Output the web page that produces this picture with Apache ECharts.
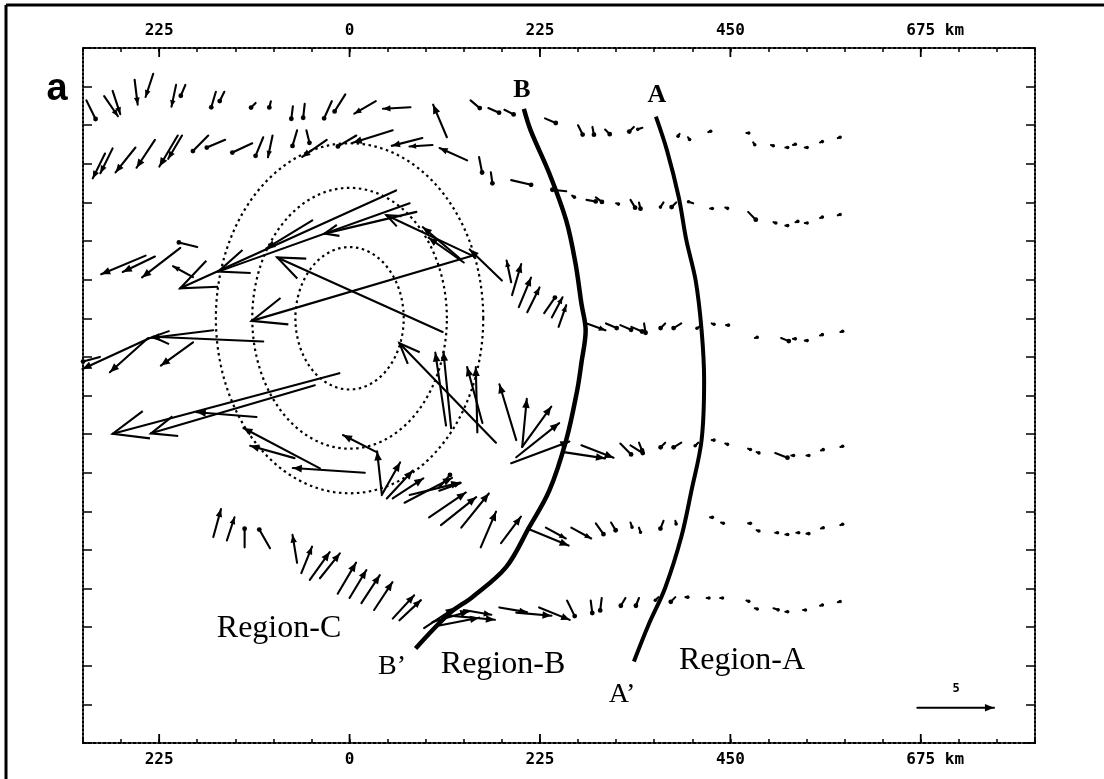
<!DOCTYPE html>
<html><head><meta charset="utf-8">
<script src="https://cdn.jsdelivr.net/npm/echarts/dist/echarts.min.js"></script>
<style>html,body{margin:0;padding:0;background:#fff}#c{width:1104px;height:779px}</style>
</head><body><div id="c"></div>
<script>
// ---- tick labels (km) ----
const xTickLabels = [-225, 0, 225, 450, 675];

// ---- wind vectors: [x km, y km, u m/s, v m/s] ----
const row1 = [
[-311,254,0.6,-1.2],[-290,259,0.9,-1.3],[-280,265,0.5,-1.5],[-254,278,0.2,-1.6],[-232,285,-0.5,-1.5],
[-205,272,-0.3,-1.4],[-194,272,-0.3,-0.7],[-158,264,-0.3,-1.0],[-148,264,-0.3,-0.6],[-111,251,-0.3,-0.3],
[-93,253,-0.1,-0.4],[-67,247,-0.1,-0.8],[-53,250,-0.1,-0.9],[-21,253,-0.5,-1.1],[-5,261,-0.7,-1.1],
[31,253,-1.4,-0.8],[72,246,-1.8,-0.1],[115,211,-0.9,2.1],[143,254,0.6,-0.5],[164,245,0.7,-0.3],
[183,243,0.6,-0.3],[231,233,0.7,-0.3],[270,225,0.3,-0.6],[287,223,0.1,-0.5],[302,220,0.3,-0.3],
[336,223,-0.3,-0.3],[346,222,-0.3,-0.1],[390,215,-0.1,-0.15],[400,211,0.1,-0.15],[424,217,0.15,0.05],
[469,216,0.15,0],[477,205,0.1,-0.15],[498,202,0.15,-0.05],[515,199,0.15,0],[524,202,0.15,0.05],
[538,199,0.15,0],[556,205,0.15,0.05],[577,210,0.15,0.05]
];
const row2 = [
[-289,192,-0.8,-1.6],[-280,198,-0.8,-1.6],[-253,199,-1.3,-1.6],[-230,208,-1.2,-1.8],[-203,213,-1.2,-2.0],
[-198,213,-0.9,-1.5],[-167,213,-1.0,-1.0],[-147,208,-1.2,-0.5],[-115,204,-1.3,-0.6],[-102,211,-0.5,-1.2],
[-91,213,-0.3,-1.4],[-62,219,-0.3,-1.0],[-51,219,0.2,-0.8],[-27,208,-1.6,-1.1],[8,213,-1.2,-0.7],
[51,219,-2.6,-0.8],[86,210,-2.0,-0.5],[98,202,-1.5,-0.1],[139,184,-1.8,0.8],[153,188,0.2,-1.0],
[167,170,0.1,-0.7],[191,161,1.3,-0.3],[256,148,-0.9,0.1],[263,143,0.15,-0.1],[280,138,0.6,-0.1],
[291,141,0.4,-0.3],[315,134,0.15,-0.05],[332,138,0.3,-0.5],[342,135,0.1,-0.4],[371,135,-0.2,-0.3],
[386,135,-0.3,-0.3],[406,134,-0.3,0.1],[426,128,0.15,0],[444,129,0.15,-0.05],[471,124,0.5,-0.5],
[501,112,0.15,-0.05],[515,108,0.15,0],[527,112,0.15,0.05],[538,111,0.15,0],[556,117,0.15,0.05],
[577,120,0.15,0.05]
];
const row3 = [
[-241,73,-2.9,-1.2],[-230,72,-2.1,-1.0],[-200,82,-2.5,-1.9],[-180,83,-1.2,0.3],[-185,48,-1.3,0.7],
[277,-5,1.4,-0.5],[303,-6,0.7,-0.3],[320,-8,0.7,-0.3],[333,-10,0.7,-0.3],[348,-6,0.1,-0.6],
[373,-6,-0.3,-0.3],[392,-6,-0.5,-0.3],[416,-8,-0.3,-0.2],[428,-6,0.15,-0.05],[445,-8,0.15,0],
[479,-23,0.15,0.05],[510,-23,0.5,-0.2],[524,-24,0.15,0],[538,-26,0.15,0],[556,-20,0.15,0.05],
[580,-16,0.15,0.05]
];
const vortexCore = [
[55,149,-14.1,-6.3],[71,134,-12.5,-4.4],[79,124,-6.0,-1.4],[-44,114,-3.0,-1.8],[145,73,-5.6,2.6],
[130,70,-2.4,2.0],[135,65,-2.3,1.6],[145,73,-14.4,-4.2],[110,-16,-10.8,4.8],[180,44,-2.1,2.0],
[173,-145,-6.3,6.4],[114,-125,-0.7,4.7],[120,-128,-0.5,4.9],[157,-122,-1.0,3.6],[151,-133,-0.1,4.2]
];
const eastFlank = [
[191,42,-0.3,1.4],[192,27,0.6,2.0],[200,13,0.8,1.9],[210,7,0.8,1.6],[230,6,0.7,1.0],[239,1,0.7,1.3],
[247,-10,0.5,1.4],[197,-142,-1.1,3.6],[204,-150,0.3,3.1],[204,-150,1.9,2.6],[197,-162,2.8,2.2],
[191,-169,3.8,1.4]
];
const row4West = [
[-236,-23,-4.4,-2.0],[-238,-23,-2.5,-2.2],[-161,-14,-4.1,-0.5],[-102,-27,-7.2,0.3],[-185,-28,-2.1,-1.5],
[-295,-45,-1.1,-0.3],[-12,-64,-14.8,-3.9],[-41,-78,-10.7,-3.1],[-110,-115,-3.9,0.3],[18,-180,-4.7,0.3],
[-35,-175,-5.0,2.6],[-65,-163,-2.9,0.8]
];
const southFan = [
[32,-156,-2.2,1.1],[38,-204,-0.3,2.7],[38,-206,1.2,2.1],[44,-210,1.7,1.8],[51,-210,2.0,1.3],
[65,-215,3.1,1.6],[71,-206,3.3,0.8],[94,-232,2.4,1.6],[108,-241,2.3,1.8],[132,-244,1.8,2.2],
[155,-267,1.0,2.3],[106,-201,1.4,0.5],[106,-197,0.7,0.8]
];
const row5 = [
[253,-156,2.7,-0.4],[274,-148,2.1,-0.8],[320,-146,0.7,-0.7],[332,-148,0.8,-0.5],[342,-145,0.2,-0.5],
[373,-145,-0.3,-0.3],[392,-145,-0.5,-0.3],[412,-145,-0.2,-0.2],[428,-142,0.15,0],[444,-146,0.15,-0.05],
[471,-152,0.15,-0.05],[481,-156,0.15,-0.05],[503,-157,0.8,-0.3],[522,-160,0.15,0],[540,-160,0.15,0],
[557,-154,0.15,0.05],[580,-150,0.15,0.05]
];
const row5b = [
[179,-262,1.3,1.7],[210,-245,2.7,-1.1],[232,-244,1.3,-0.7],[262,-244,1.3,-0.7],[291,-239,0.5,-0.7],
[309,-238,0.3,-0.5],[332,-238,0.1,-0.3],[342,-244,0.1,-0.3],[371,-236,-0.2,-0.5],[385,-236,0.05,-0.2],
[426,-232,0.15,0],[439,-238,0.15,-0.05],[471,-239,0.15,0],[481,-247,0.15,-0.05],[503,-250,0.15,0],
[515,-252,0.15,0],[528,-250,0.15,0],[540,-251,0.15,0],[557,-245,0.15,0.05],[580,-241,0.15,0.05]
];
const row6 = [
[-161,-255,0.5,1.8],[-145,-259,0.5,1.5],[-124,-267,0,1.2],[-94,-268,-0.7,1.2],[-62,-285,-0.3,1.8],
[-57,-297,0.7,1.7],[-47,-305,1.3,1.8],[-35,-303,1.3,1.6],[-14,-321,1.2,2.0],[0,-326,1.1,1.8],
[14,-332,1.2,1.8],[29,-340,1.2,1.8],[51,-350,1.4,1.5],[59,-352,1.4,1.3],
[98,-354,2.4,0.7],[106,-358,2.6,0.5],[112,-346,3.3,-0.3],[88,-361,2.0,1.3],
[135,-340,1.8,-0.3],[177,-337,1.8,-0.3],[197,-343,2.3,-0.2],[224,-337,2.0,-0.8],[257,-329,0.5,-1.0],
[285,-329,0.1,-0.8],[298,-326,-0.1,-0.8],[326,-326,-0.3,-0.5],[342,-326,-0.2,-0.5],[365,-325,-0.2,-0.2],
[385,-325,-0.3,-0.3],[397,-325,0.15,0],[422,-326,0.15,0],[438,-326,0.15,0],[469,-329,0.15,-0.05],
[479,-338,0.15,-0.05],[501,-338,0.3,-0.1],[515,-342,0.15,0],[536,-340,0.15,0],[556,-335,0.15,0.05],
[577,-331,0.15,0.05]
];
const scaleVector = [[671,-454,5,0]];

// ---- fronts (km) ----
const frontB = [[206,244],[214,219],[236,169],[256,114],[267,64],[274,17],[279,-14],[274,-52],[269,-84],
[256,-142],[236,-201],[212,-244],[185,-290],[145,-325],[118,-344],[78,-385]];
const frontA = [[362,235],[375,196],[389,141],[398,91],[409,44],[416,-14],[419,-72],[416,-142],[404,-201],
[392,-255],[373,-314],[353,-358],[336,-400]];

// ---- dotted ellipses: [cx, cy, semi-x, semi-y] km ----
const ellipses = [[0,0,64,83],[0,0,115,152],[0,0,158,204]];

const K = 18.1; // km drawn per m/s (5 m/s reference arrow)

const vectors = [].concat(row1,row2,row3,vortexCore,eastFlank,row4West,southFan,row5,row5b,row6,scaleVector);

function renderVector(params, api){
  const x=api.value(0), y=api.value(1), u=api.value(2), v=api.value(3);
  const p0=api.coord([x,y]), p1=api.coord([x+u*K, y+v*K]);
  const dx=p1[0]-p0[0], dy=p1[1]-p0[1];
  const len=Math.hypot(dx,dy)||0.001;
  const ux=dx/len, uy=dy/len;
  const ch=[{type:'line',shape:{x1:p0[0],y1:p0[1],x2:p1[0],y2:p1[1]},style:{stroke:'#000',lineWidth:2.1,lineCap:'round'}}];
  if(len<22){
    ch.push({type:'circle',shape:{cx:p1[0],cy:p1[1],r:len<6?1.8:2.4},style:{fill:'#000'}});
  } else if(len<90){
    const h=Math.min(9,0.2*len+2), w=h*0.42;
    const bx=p1[0]-ux*h, by=p1[1]-uy*h;
    ch.push({type:'polygon',shape:{points:[[p1[0],p1[1]],[bx-uy*w,by+ux*w],[bx+uy*w,by-ux*w]]},style:{fill:'#000'}});
  } else {
    const hl=Math.min(40,0.16*len), a=22*Math.PI/180;
    const bx=-ux, by=-uy;
    const c=Math.cos(a), s=Math.sin(a);
    const b1=[p1[0]+hl*(bx*c-by*s), p1[1]+hl*(bx*s+by*c)];
    const b2=[p1[0]+hl*(bx*c+by*s), p1[1]+hl*(-bx*s+by*c)];
    ch.push({type:'polyline',shape:{points:[b1,[p1[0],p1[1]],b2]},style:{stroke:'#000',lineWidth:2.1,fill:null}});
  }
  return {type:'group',children:ch};
}
function renderEllipse(params, api){
  const cx=api.value(0), cy=api.value(1), a=api.value(2), b=api.value(3);
  const pts=[];
  for(let i=0;i<=160;i++){const t=i/160*2*Math.PI; pts.push(api.coord([cx+a*Math.cos(t), cy+b*Math.sin(t)]));}
  return {type:'polyline',shape:{points:pts},style:{stroke:'#000',lineWidth:2.2,lineDash:[2.5,3.5],fill:null}};
}
function renderMajorTick(params, api){
  const v=api.value(0);
  const t=api.coord([v,315]), b=api.coord([v,-495]);
  return {type:'group',children:[
    {type:'line',shape:{x1:t[0],y1:t[1],x2:t[0],y2:t[1]+9},style:{stroke:'#000',lineWidth:1.8}},
    {type:'line',shape:{x1:b[0],y1:b[1],x2:b[0],y2:b[1]-9},style:{stroke:'#000',lineWidth:1.8}}
  ]};
}

const labFont = {fontFamily:'DejaVu Sans Mono', fontWeight:'bold', fontSize:16};
function xAxisCfg(pos){
  return {type:'value', position:pos, min:-315, max:810, interval:45,
    axisLine:{show:true,onZero:false,lineStyle:{color:'#000',width:2,type:[3,2]}},
    axisTick:{show:true,inside:true,length:4,lineStyle:{color:'#000',width:1.5}},
    splitLine:{show:false},
    axisLabel:{show:true,margin:9,color:'#000',
      formatter:function(v){ if(!xTickLabels.includes(v)) return '';
        if(v===675) return '{h|km }{n|675 km}'; return '{n|'+Math.abs(v)+'}'; },
      rich:{n:Object.assign({color:'#000'},labFont), h:Object.assign({color:'rgba(0,0,0,0)'},labFont)}}
  };
}
function yAxisCfg(pos){
  return {type:'value', position:pos, min:-495, max:315, interval:45,
    axisLine:{show:true,onZero:false,lineStyle:{color:'#000',width:2,type:[2,2]}},
    axisTick:{show:true,inside:true,length:9,lineStyle:{color:'#000',width:1.5}},
    splitLine:{show:false}, axisLabel:{show:false}};
}

const chart = echarts.init(document.getElementById('c'), null, {renderer:'canvas'});
const serif='"Liberation Serif","Times New Roman",serif';
function txt(t,x,y,font){return {type:'text',x:x,y:y,z:100,style:{text:t,font:font,fill:'#000',textAlign:'center',textVerticalAlign:'middle',align:'center',verticalAlign:'middle'}};}
chart.setOption({
  animation:false,
  backgroundColor:'#fff',
  grid:{left:83,right:69,top:48,bottom:36,containLabel:false},
  xAxis:[xAxisCfg('bottom'), xAxisCfg('top')],
  yAxis:[yAxisCfg('left'), yAxisCfg('right')],
  series:[
    {type:'custom',renderItem:renderEllipse,data:ellipses,z:1,silent:true},
    {type:'custom',renderItem:renderMajorTick,data:xTickLabels.map(v=>[v]),z:2,silent:true},
    {type:'line',data:frontB,smooth:0.35,symbol:'none',lineStyle:{color:'#000',width:4.5},z:3,silent:true},
    {type:'line',data:frontA,smooth:0.35,symbol:'none',lineStyle:{color:'#000',width:4},z:3,silent:true},
    {type:'custom',renderItem:renderVector,data:vectors,z:4,silent:true}
  ],
  graphic:[
    {type:'line',shape:{x1:6,y1:5,x2:1104,y2:5},style:{stroke:'#000',lineWidth:3}},
    {type:'line',shape:{x1:6,y1:5,x2:6,y2:779},style:{stroke:'#000',lineWidth:3}},
    txt('a',57,90,'bold 38px "Liberation Sans Narrow","Liberation Sans",sans-serif'),
    txt('B',522,90,'bold 26px '+serif),
    txt('A',657,95,'bold 26px '+serif),
    txt('B\u2019',392,667,'28px '+serif),
    txt('A\u2019',622,695,'28px '+serif),
    txt('Region-C',279,629,'32px '+serif),
    txt('Region-B',503,665,'32px '+serif),
    txt('Region-A',742,661,'32px '+serif),
    txt('5',956,689,'bold 12px "DejaVu Sans Mono",monospace')
  ]
});
</script></body></html>
